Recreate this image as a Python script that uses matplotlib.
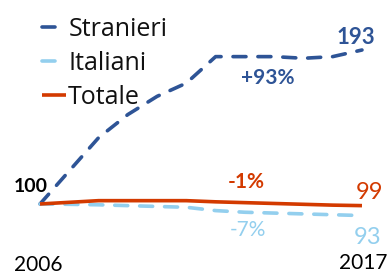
import matplotlib.pyplot as plt

# index 2006 = 100
years = list(range(2006, 2018))
stranieri = [100, 120, 140, 154, 165, 173, 189, 189, 189, 188, 189, 193]
italiani = [100, 99.8, 99.5, 99, 98.5, 98, 96, 95, 94.5, 94, 93.5, 93]
totale = [100, 101, 102, 102, 102, 102, 101.3, 100.8, 100.3, 99.8, 99.3, 99]

c_str = '#2E5496'
c_ita = '#93CFEE'
c_tot = '#D33A00'

num_font = 'Lato'
leg_font = 'Open Sans'

fig = plt.figure(figsize=(3.88, 2.75), dpi=100)
ax = fig.add_axes([0, 0, 1, 1])

ax.plot(years, stranieri, color=c_str, lw=2.6, dashes=(3.6, 3.3),
        dash_capstyle='round', label='Stranieri')
ax.plot(years, italiani, color=c_ita, lw=2.6, dashes=(3.6, 3.3),
        dash_capstyle='round', label='Italiani')
ax.plot(years, totale, color=c_tot, lw=2.6, solid_capstyle='butt',
        label='Totale')

ax.set_xlim(2004.633, 2017.889)
ax.set_ylim(57.1, 223.2)
ax.axis('off')

leg = ax.legend(loc='upper left', bbox_to_anchor=(42 / 388, 1 - 17 / 275),
                frameon=False, handlelength=0.97, handletextpad=0.08,
                labelspacing=0.36, borderpad=0, borderaxespad=0,
                prop={'family': leg_font, 'size': 18})
for t in leg.get_texts():
    t.set_color('#111111')

# labels
ax.text(2005.69, 110.3, '100', ha='center', va='center', fontsize=14,
        fontweight='bold', color='black', family=num_font)
ax.text(2005.93, 63.2, '2006', ha='center', va='center', fontsize=15,
        color='black', family=num_font)
ax.text(2017.03, 64.4, '2017', ha='center', va='center', fontsize=15,
        color='black', family=num_font)
ax.text(2016.8, 200.8, '193', ha='center', va='center', fontsize=16,
        fontweight='bold', color=c_str, family=num_font)
ax.text(2013.79, 176.1, '+93%', ha='center', va='center', fontsize=15,
        fontweight='bold', color=c_str, family=num_font)
ax.text(2013.04, 113.3, '-1%', ha='center', va='center', fontsize=15,
        fontweight='bold', color=c_tot, family=num_font)
ax.text(2017.25, 107.2, '99', ha='center', va='center', fontsize=17,
        color=c_tot, family=num_font)
ax.text(2013.1, 84.0, '-7%', ha='center', va='center', fontsize=15,
        color=c_ita, family=num_font)
ax.text(2017.2, 79.5, '93', ha='center', va='center', fontsize=17,
        color=c_ita, family=num_font)

fig.savefig('out.png', dpi=100)
